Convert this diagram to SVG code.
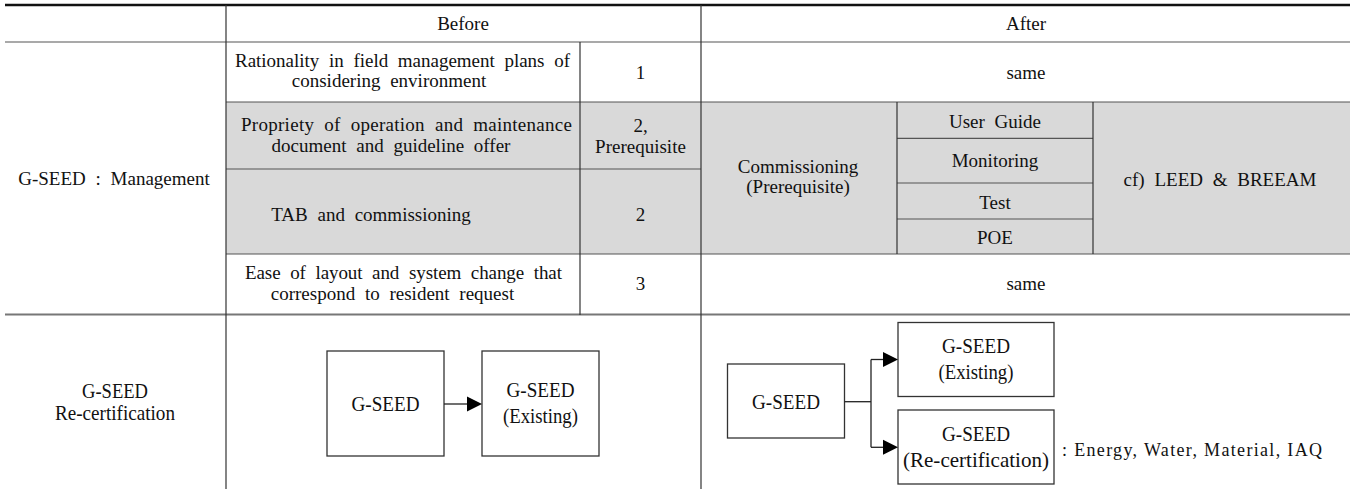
<svg xmlns="http://www.w3.org/2000/svg" width="1353" height="489" viewBox="0 0 1353 489">
<style>
.t{font-family:'Liberation Serif',serif;word-spacing:5px;fill:#111;}
.m{text-anchor:middle;}
.b{font-family:'Liberation Serif',serif;text-anchor:middle;fill:#111;}
.e{font-family:'Liberation Serif',serif;fill:#111;}
.ln{stroke:#555;stroke-width:1.2;fill:none;}
.vl{stroke:#333;stroke-width:1.2;fill:none;}
.box{fill:#fff;stroke:#333;stroke-width:1.3;}
.con{stroke:#222;stroke-width:1.3;fill:none;}
.hd{fill:#000;stroke:none;}
</style>
<rect width="1353" height="489" fill="#fff"/>
<g id="table">
<rect x="226" y="102" width="1124" height="152" fill="#d9d9d9"/>
<line x1="5" y1="5" x2="1350" y2="5" stroke="#111" stroke-width="2.6"/>
<line class="ln" x1="5" y1="42" x2="1350" y2="42"/>
<line class="ln" x1="226" y1="102" x2="1350" y2="102"/>
<line class="ln" x1="226" y1="169" x2="701" y2="169"/>
<line class="ln" x1="897" y1="138.3" x2="1093" y2="138.3"/>
<line class="ln" x1="897" y1="183" x2="1093" y2="183"/>
<line class="ln" x1="897" y1="219" x2="1093" y2="219"/>
<line class="ln" x1="226" y1="254" x2="1350" y2="254"/>
<line x1="5" y1="314.5" x2="1350" y2="314.5" stroke="#777" stroke-width="2"/>
<line class="vl" x1="226" y1="5" x2="226" y2="489"/>
<line class="vl" x1="580" y1="42" x2="580" y2="315"/>
<line class="vl" x1="701" y1="5" x2="701" y2="489"/>
<line class="vl" x1="897" y1="102" x2="897" y2="254"/>
<line class="vl" x1="1093" y1="102" x2="1093" y2="254"/>
</g>
<g id="cells">
<text class="t m" font-family="Liberation Serif" font-size="19" x="463" y="29.5">Before</text>
<text class="t m" font-family="Liberation Serif" font-size="19" x="1026" y="29.5">After</text>
<text class="t" font-family="Liberation Serif" font-size="19" x="235" y="67" textLength="335" lengthAdjust="spacing">Rationality in field management plans of</text>
<text class="t m" font-family="Liberation Serif" font-size="19" x="389" y="87">considering environment</text>
<text class="t m" font-family="Liberation Serif" font-size="19" x="640.5" y="79">1</text>
<text class="t m" font-family="Liberation Serif" font-size="19" x="1026" y="79">same</text>
<text class="t" font-family="Liberation Serif" font-size="19" x="241" y="131" textLength="331" lengthAdjust="spacing">Propriety of operation and maintenance</text>
<text class="t m" font-family="Liberation Serif" font-size="19" x="391" y="151.5">document and guideline offer</text>
<text class="t m" font-family="Liberation Serif" font-size="19" x="640.5" y="131.5">2,</text>
<text class="t m" font-family="Liberation Serif" font-size="19" x="640.5" y="153">Prerequisite</text>
<text class="t m" font-family="Liberation Serif" font-size="19" x="798" y="173">Commissioning</text>
<text class="t m" font-family="Liberation Serif" font-size="19" x="798" y="192.5">(Prerequisite)</text>
<text class="t m" font-family="Liberation Serif" font-size="19" x="995" y="128">User Guide</text>
<text class="t m" font-family="Liberation Serif" font-size="19" x="995" y="167">Monitoring</text>
<text class="t m" font-family="Liberation Serif" font-size="19" x="995" y="208.5">Test</text>
<text class="t m" font-family="Liberation Serif" font-size="19" x="995" y="244">POE</text>
<text class="t m" font-family="Liberation Serif" font-size="19" x="1220" y="186">cf) LEED &amp; BREEAM</text>
<text class="t m" font-family="Liberation Serif" font-size="19" x="371" y="221">TAB and commissioning</text>
<text class="t m" font-family="Liberation Serif" font-size="19" x="640.5" y="221">2</text>
<text class="t" font-family="Liberation Serif" font-size="19" x="245" y="279" textLength="317" lengthAdjust="spacing">Ease of layout and system change that</text>
<text class="t m" font-family="Liberation Serif" font-size="19" x="392.5" y="299.5">correspond to resident request</text>
<text class="t m" font-family="Liberation Serif" font-size="19" x="640.5" y="290">3</text>
<text class="t m" font-family="Liberation Serif" font-size="19" x="1026" y="290">same</text>
<text class="t m" font-family="Liberation Serif" font-size="19" x="114" y="185">G-SEED : Management</text>
<text class="b" font-family="Liberation Serif" font-size="21" x="115" y="398" textLength="66" lengthAdjust="spacingAndGlyphs">G-SEED</text>
<text class="b" font-family="Liberation Serif" font-size="21" x="115" y="420" textLength="120" lengthAdjust="spacingAndGlyphs">Re-certification</text>
</g>
<g id="before-gseed">
<rect class="box" x="327" y="351" width="117" height="105"/>
<text class="b" font-family="Liberation Serif" font-size="21" x="385.5" y="410.5" textLength="68" lengthAdjust="spacingAndGlyphs">G-SEED</text>
</g>
<g id="before-existing">
<rect class="box" x="482" y="351" width="117" height="105"/>
<text class="b" font-family="Liberation Serif" font-size="21" x="540.5" y="397" textLength="68" lengthAdjust="spacingAndGlyphs">G-SEED</text>
<text class="b" font-family="Liberation Serif" font-size="21" x="540.5" y="423" textLength="75" lengthAdjust="spacingAndGlyphs">(Existing)</text>
</g>
<g id="after-gseed">
<rect class="box" x="727.5" y="364" width="117" height="74"/>
<text class="b" font-family="Liberation Serif" font-size="21" x="786" y="409" textLength="68" lengthAdjust="spacingAndGlyphs">G-SEED</text>
</g>
<g id="after-existing">
<rect class="box" x="898" y="322.5" width="156" height="74"/>
<text class="b" font-family="Liberation Serif" font-size="21" x="976" y="353" textLength="68" lengthAdjust="spacingAndGlyphs">G-SEED</text>
<text class="b" font-family="Liberation Serif" font-size="21" x="976" y="379" textLength="75" lengthAdjust="spacingAndGlyphs">(Existing)</text>
</g>
<g id="after-recert">
<rect class="box" x="898" y="410" width="156" height="74"/>
<text class="b" font-family="Liberation Serif" font-size="21" x="976" y="441" textLength="68" lengthAdjust="spacingAndGlyphs">G-SEED</text>
<text class="b" font-family="Liberation Serif" font-size="21" x="976" y="467" textLength="146" lengthAdjust="spacingAndGlyphs">(Re-certification)</text>
<text class="e" font-family="Liberation Serif" font-size="18" x="1062" y="456" textLength="260" lengthAdjust="spacing">: Energy, Water, Material, IAQ</text>
</g>
<g id="connectors">
<line class="con" x1="444" y1="404" x2="468" y2="404"/>
<polygon class="hd" points="467,396.5 482,404 467,411.5"/>
<line class="con" x1="844.5" y1="401.7" x2="871" y2="401.7"/>
<line class="con" x1="871" y1="359.5" x2="871" y2="447.3"/>
<line class="con" x1="871" y1="359.5" x2="884" y2="359.5"/>
<polygon class="hd" points="883,352 898,359.5 883,367"/>
<line class="con" x1="871" y1="447.3" x2="884" y2="447.3"/>
<polygon class="hd" points="883,439.8 898,447.3 883,454.8"/>
</g>
</svg>
